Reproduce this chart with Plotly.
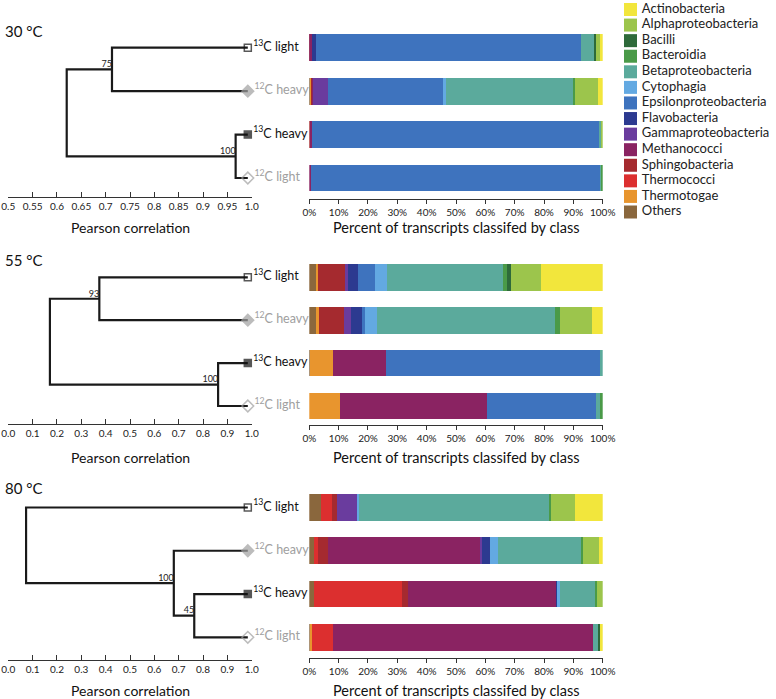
import plotly.graph_objects as go

W, H = 776, 699
FONT = "Lato"

# ---------------- data ----------------
classes = ["Actinobacteria", "Alphaproteobacteria", "Bacilli", "Bacteroidia",
           "Betaproteobacteria", "Cytophagia", "Epsilonproteobacteria", "Flavobacteria",
           "Gammaproteobacteria", "Methanococci", "Sphingobacteria", "Thermococci",
           "Thermotogae", "Others"]
class_colors = ["#F2E63C", "#9CC54C", "#2E6A3A", "#4A9A48", "#5BAA9C", "#63A9E2",
                "#3E73BE", "#2C3A90", "#6A3C9E", "#8A2362", "#A52A2F", "#DC2F2F",
                "#E8952E", "#8A673D"]

samples = ["<sup>13</sup>C light", "<sup>12</sup>C heavy", "<sup>13</sup>C heavy", "<sup>12</sup>C light"]
sample_colors = ["#111111", "#A0A0A0", "#111111", "#A0A0A0"]
sample_symbols = ["square-open", "diamond", "square", "diamond-open"]
sample_pos = [3, 2, 1, 0]

# Percent values per sample, listed in stacking order (left to right):
# Others, Thermotogae, Thermococci, Sphingobacteria, Methanococci, Gammaproteobacteria,
# Flavobacteria, Epsilonproteobacteria, Cytophagia, Betaproteobacteria, Bacteroidia,
# Bacilli, Alphaproteobacteria, Actinobacteria
t30_13C_light = [0, 0, 0, 0.3, 0.5, 0, 1.4, 90.4, 0, 4.6, 0, 0.5, 1.7, 0.6]
t30_12C_heavy = [0.4, 0.3, 0, 0.4, 0.3, 4.9, 0, 39.4, 0.8, 43.5, 0.7, 0, 7.6, 1.7]
t30_13C_heavy = [0, 0, 0, 0.3, 0.7, 0, 0, 98.0, 0, 0.6, 0.2, 0, 0.2, 0]
t30_12C_light = [0, 0, 0, 0, 0.6, 0, 0, 98.8, 0, 0.3, 0.3, 0, 0, 0]

t55_13C_light = [2.3, 0.8, 0, 8.9, 0, 1.1, 3.6, 5.7, 4.0, 39.5, 1.6, 1.3, 10.2, 21.0]
t55_12C_heavy = [2.7, 0.5, 0, 8.6, 0, 2.5, 3.6, 1.1, 4.1, 60.6, 1.9, 0, 10.8, 3.6]
t55_13C_heavy = [0.3, 7.9, 0, 0, 17.8, 0, 0, 73.4, 0, 0.6, 0, 0, 0, 0]
t55_12C_light = [0, 10.5, 0, 0, 50.2, 0, 0, 37.0, 0, 1.7, 0.6, 0, 0, 0]

t80_13C_light = [3.9, 0, 3.8, 1.7, 0, 7.2, 0, 0, 0.4, 65.0, 0.5, 0, 8.1, 9.4]
t80_12C_heavy = [1.7, 0, 1.1, 3.6, 52.0, 0.5, 2.7, 0, 2.7, 28.5, 0.5, 0, 5.5, 1.2]
t80_13C_heavy = [1.6, 0, 29.9, 2.0, 50.5, 0, 0.8, 0, 0.6, 12.3, 0.5, 0, 1.8, 0]
t80_12C_light = [0.5, 0.4, 7.2, 0, 88.7, 0, 0, 0, 0, 1.5, 0, 0.7, 0, 1.0]

# Dendrograms (Pearson correlation at merge nodes) and bootstrap support
t30_merge_x = [0.713, 0.967, 0.62]     # (13C light,12C heavy), (13C heavy,12C light), root
t30_support = [75, 100]
t55_merge_x = [0.374, 0.862, 0.171]
t55_support = [93, 100]
t80_merge_x = [0.764, 0.68, 0.073]     # (13C heavy,12C light), (12C heavy, that), root
t80_support = [45, 100]

pearson30_ticks = [0.5, 0.55, 0.6, 0.65, 0.7, 0.75, 0.8, 0.85, 0.9, 0.95, 1.0]
pearson30_text = ["0.5", "0.55", "0.6", "0.65", "0.7", "0.75", "0.8", "0.85", "0.9", "0.95", "1.0"]
pearson_ticks = [0.0, 0.1, 0.2, 0.3, 0.4, 0.5, 0.6, 0.7, 0.8, 0.9, 1.0]
pearson_text = ["0.0", "0.1", "0.2", "0.3", "0.4", "0.5", "0.6", "0.7", "0.8", "0.9", "1.0"]
pct_ticks = [0, 10, 20, 30, 40, 50, 60, 70, 80, 90, 100]
pct_text = ["0%", "10%", "20%", "30%", "40%", "50%", "60%", "70%", "80%", "90%", "100%"]

temps = ["30 °C", "55 °C", "80 °C"]

# ---------------- layout geometry (pixels) ----------------
rows = [
    dict(title_y=31, top=30, y_top=47.7, y_bot=178.0, d_axis=196.5, b_axis=199.0, xt=228,
         rng=(0.5, 1.0), leaf_x=0.992, ticks=(pearson30_ticks, pearson30_text),
         bars=[t30_13C_light, t30_12C_heavy, t30_13C_heavy, t30_12C_light],
         merge=t30_merge_x, support=t30_support, topo="AB"),
    dict(title_y=260, top=255, y_top=277.3, y_bot=406.0, d_axis=424.0, b_axis=425.0, xt=457,
         rng=(0.0, 1.0), leaf_x=0.984, ticks=(pearson_ticks, pearson_text),
         bars=[t55_13C_light, t55_12C_heavy, t55_13C_heavy, t55_12C_light],
         merge=t55_merge_x, support=t55_support, topo="AB"),
    dict(title_y=488, top=485, y_top=507.5, y_bot=637.3, d_axis=660.0, b_axis=658.0, xt=690,
         rng=(0.0, 1.0), leaf_x=0.984, ticks=(pearson_ticks, pearson_text),
         bars=[t80_13C_light, t80_12C_heavy, t80_13C_heavy, t80_12C_light],
         merge=t80_merge_x, support=t80_support, topo="A_BCD"),
]
DX0, DX1 = 8.3, 251.7       # dendrogram axis pixel span
BX0, BX1 = 309.3, 602.7     # bar axis pixel span

fig = go.Figure()
layout = dict(width=W, height=H, margin=dict(l=0, r=0, t=0, b=0, autoexpand=False),
              plot_bgcolor="white", paper_bgcolor="white", showlegend=False,
              barmode="stack", font=dict(family=FONT, color="#222222"))
annotations = []

stack_classes = classes[::-1]
stack_colors = class_colors[::-1]

def py(p):
    return 1 - p / H

ax = 1
for r in rows:
    spacing = (r["y_bot"] - r["y_top"]) / 3.0
    def val(p, r=r, s=spacing):
        return (r["y_bot"] - p) / s
    bx, by = f"x{ax+1}", f"y{ax+1}"
    xk_d = "xaxis" if ax == 1 else f"xaxis{ax}"
    yk_d = "yaxis" if ax == 1 else f"yaxis{ax}"
    xk_b, yk_b = f"xaxis{ax+1}", f"yaxis{ax+1}"
    dx_ref = "x" if ax == 1 else f"x{ax}"
    dy_ref = "y" if ax == 1 else f"y{ax}"

    # ---- dendrogram ----
    lx = r["leaf_x"]
    xs, ys = [], []
    m = r["merge"]
    if r["topo"] == "AB":
        n1 = (m[0], (3 + 2) / 2)
        n2 = (m[1], (1 + 0) / 2)
        segs = [((lx, 3), (lx, 2), m[0]), ((lx, 1), (lx, 0), m[1]), (n1, n2, m[2])]
        sup_nodes = [n1, n2]
    else:
        n1 = (m[0], (1 + 0) / 2)
        n2 = (m[1], (2 + n1[1]) / 2)
        segs = [((lx, 1), (lx, 0), m[0]), ((lx, 2), n1, m[1]), ((lx, 3), n2, m[2])]
        sup_nodes = [n1, n2]
    for (c1, c2, xn) in segs:
        xs += [c1[0], xn, xn, c2[0], None]
        ys += [c1[1], c1[1], c2[1], c2[1], None]
    fig.add_trace(go.Scatter(x=xs, y=ys, mode="lines", xaxis=dx_ref, yaxis=dy_ref,
                             line=dict(color="#1a1a1a", width=2.2), hoverinfo="skip"))
    fig.add_trace(go.Scatter(x=[lx] * 4, y=sample_pos, mode="markers+text", xaxis=dx_ref, yaxis=dy_ref,
                             text=samples, textposition="middle right",
                             textfont=dict(size=12.5, color=sample_colors, family=FONT),
                             marker=dict(symbol=sample_symbols, size=[7, 9, 7, 9],
                                         color=sample_colors, line=dict(width=1.5, color=sample_colors)),
                             cliponaxis=False, hoverinfo="skip"))
    # bootstrap support labels, just above-left of each merge node
    fig.add_trace(go.Scatter(x=[n[0] for n in sup_nodes], y=[n[1] for n in sup_nodes],
                             mode="text", text=[str(s) for s in r["support"]],
                             textposition="top left", xaxis=dx_ref, yaxis=dy_ref,
                             textfont=dict(size=9, color="#222222", family=FONT),
                             cliponaxis=False, hoverinfo="skip"))
    layout[xk_d] = dict(domain=[DX0 / W, DX1 / W], range=list(r["rng"]), anchor=dy_ref,
                        automargin=False,
                        showgrid=False, zeroline=False, showline=True, linecolor="#333333", linewidth=1,
                        ticks="inside", ticklen=5, tickcolor="#333333",
                        tickvals=r["ticks"][0], ticktext=r["ticks"][1],
                        tickfont=dict(size=10, color="#222222", family=FONT))
    layout[yk_d] = dict(domain=[py(r["d_axis"]), py(r["top"])], automargin=False,
                        range=[val(r["d_axis"]), val(r["top"])], anchor=dx_ref,
                        visible=False, showgrid=False, zeroline=False)

    # ---- stacked bars ----
    for ci, cname in enumerate(stack_classes):
        fig.add_trace(go.Bar(x=[b[ci] for b in r["bars"]], y=sample_pos, orientation="h",
                             xaxis=bx, yaxis=by, name=cname, width=0.62,
                             marker=dict(color=stack_colors[ci], line=dict(width=0))))
    layout[xk_b] = dict(domain=[BX0 / W, BX1 / W], range=[0, 100], anchor=by, automargin=False,
                        showgrid=False, zeroline=False, showline=True, linecolor="#333333", linewidth=1,
                        ticks="outside", ticklen=4, tickcolor="#333333",
                        tickvals=pct_ticks, ticktext=pct_text,
                        tickfont=dict(size=10, color="#222222", family=FONT))
    layout[yk_b] = dict(domain=[py(r["b_axis"]), py(r["top"])], automargin=False,
                        range=[val(r["b_axis"]), val(r["top"])], anchor=bx,
                        visible=False, showgrid=False, zeroline=False)

    # titles
    annotations.append(dict(x=3 / W, y=py(r["title_y"]), xref="paper", yref="paper", text=temps[ax // 2],
                            showarrow=False, xanchor="left", yanchor="middle",
                            font=dict(size=15, color="#111111", family=FONT)))
    annotations.append(dict(x=(DX0 + DX1) / 2 / W, y=py(r["xt"]), xref="paper", yref="paper",
                            text="Pearson correlation", showarrow=False, xanchor="center", yanchor="middle",
                            font=dict(size=14, color="#111111", family=FONT)))
    annotations.append(dict(x=(BX0 + BX1) / 2 / W, y=py(r["xt"]), xref="paper", yref="paper",
                            text="Percent of transcripts classifed by class", showarrow=False,
                            xanchor="center", yanchor="middle",
                            font=dict(size=14.5, color="#111111", family=FONT)))
    ax += 2

# ---------------- legend (as a category axis) ----------------
lg_top, lg_bot = 0.0, 230.0
c0, c1 = 9.5, 212.0
step = (c1 - c0) / 13
fig.add_trace(go.Scatter(x=[0] * len(classes), y=list(range(len(classes))), mode="markers",
                         xaxis="x7", yaxis="y7",
                         marker=dict(symbol="square", size=13, color=class_colors, line=dict(width=0)),
                         cliponaxis=False, hoverinfo="skip"))
fig.add_trace(go.Scatter(x=[0.45] * len(classes), y=list(range(len(classes))), mode="text",
                         xaxis="x7", yaxis="y7", text=classes, textposition="middle right",
                         textfont=dict(size=13, color="#222222", family=FONT),
                         cliponaxis=False, hoverinfo="skip"))
layout["xaxis7"] = dict(domain=[0.78, 1.0], range=[-1, 5.77], anchor="y7", visible=False, automargin=False)
layout["yaxis7"] = dict(domain=[py(lg_bot), py(lg_top)], automargin=False,
                        range=[(lg_bot - c0) / step, (lg_top - c0) / step], anchor="x7", visible=False)

layout["annotations"] = annotations
fig.update_layout(**layout)
fig.write_html("out.html", config={"displayModeBar": False},
               post_script="document.body.style.margin='0';document.body.style.padding='0';")
